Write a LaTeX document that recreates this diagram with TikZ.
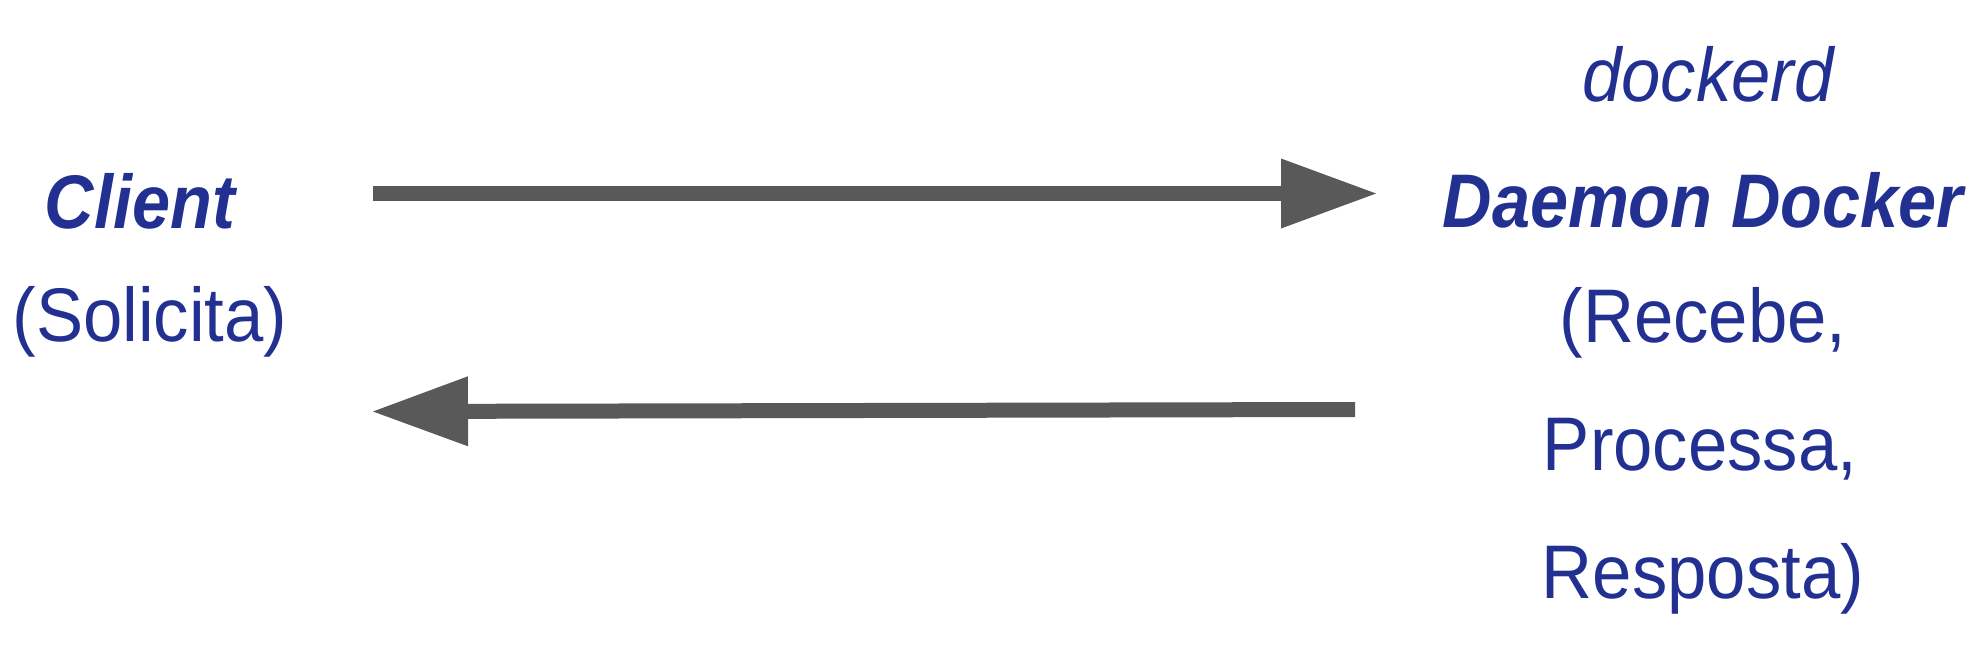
\documentclass[tikz,border=0pt]{standalone}
\usepackage{fontspec}
\setmainfont{Liberation Sans}[FakeStretch=0.93]
\newfontfamily\bifont{Liberation Sans}[FakeStretch=0.9]
\usetikzlibrary{arrows.meta}
\definecolor{txt}{RGB}{34,48,146}
\definecolor{arr}{RGB}{89,89,89}
\tikzset{
  lbl/.style={anchor=base, inner sep=0pt, text=txt, font=\fontsize{38}{40}\selectfont},
  boldlbl/.style={anchor=base, inner sep=0pt, text=txt, font=\bifont\fontsize{38}{40}\selectfont\bfseries\itshape},
  itlbl/.style={anchor=base, inner sep=0pt, text=txt, font=\fontsize{38}{40}\selectfont\itshape},
  conn/.style={draw=arr, line width=7.5pt, -{Triangle[length=47.5pt,width=35pt,line width=0pt]}}
}
\begin{document}
\begin{tikzpicture}[x=0.5pt,y=-0.5pt]
\useasboundingbox (0,0) rectangle (1974,646);
% left column
\node[boldlbl] (client) at (140,229) {Client};
\node[lbl] (solicita) at (150,342) {(Solicita)};
% right column
\node[itlbl] (dockerd) at (1708,102) {dockerd};
\node[boldlbl] (daemon) at (1703,228) {Daemon Docker};
\node[lbl] (recebe) at (1703,343) {(Recebe,};
\node[lbl] (processa) at (1700,470) {Processa,};
\node[lbl] (resposta) at (1703,598) {Resposta)};
% connectors
\coordinate (a1s) at (373,193.5);
\coordinate (a1e) at (1376,193.5);
\coordinate (a2s) at (1355,409.5);
\coordinate (a2e) at (373,411.5);
\draw[conn] (a1s) -- (a1e);
\draw[conn] (a2s) -- (a2e);
\end{tikzpicture}
\end{document}
